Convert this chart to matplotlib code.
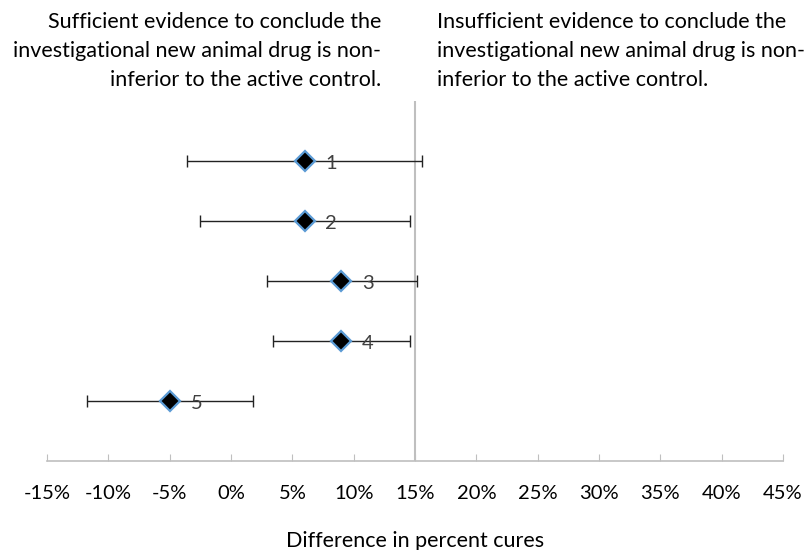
import matplotlib.pyplot as plt
from matplotlib.ticker import FuncFormatter

# study results: difference in percent cures with confidence limits
studies = ['1', '2', '3', '4', '5']
ypos = [5, 4, 3, 2, 1]
estimate = [6.0, 6.0, 9.0, 9.0, -5.0]
lower = [-3.6, -2.5, 2.9, 3.4, -11.7]
upper = [15.6, 14.6, 15.2, 14.6, 1.8]
margin = 15
xticks = [-15, -10, -5, 0, 5, 10, 15, 20, 25, 30, 35, 40, 45]

plt.rcParams['font.family'] = ['Lato', 'DejaVu Sans']

fig = plt.figure(figsize=(8.12, 5.5), dpi=100)
ax = fig.add_axes([0.0579, 0.1618, 0.9064, 0.6546])

err = [[e - lo for e, lo in zip(estimate, lower)],
       [up - e for e, up in zip(estimate, upper)]]
ax.errorbar(estimate, ypos, xerr=err, fmt='none', ecolor='#222222',
            elinewidth=1, capsize=4, capthick=1, zorder=2)
ax.plot(estimate, ypos, linestyle='none', marker='D', markersize=10,
        markerfacecolor='black', markeredgecolor='#5b9bd5',
        markeredgewidth=1.6, zorder=3)

for s, x, y in zip(studies, estimate, ypos):
    ax.annotate(s, (x, y), xytext=(15, -2), textcoords='offset points',
                fontsize=14.5, va='center', ha='left', color='#404040')

ax.axvline(margin, color='#bfbfbf', linewidth=1.5, zorder=1)

ax.set_xlim(-15, 45)
ax.set_ylim(0, 6)
ax.set_xticks(xticks)
ax.xaxis.set_major_formatter(FuncFormatter(lambda v, p: f'{v:.0f}%'))
ax.set_yticks([])
for side in ['top', 'right', 'left']:
    ax.spines[side].set_visible(False)
ax.spines['bottom'].set_color('#bfbfbf')
ax.spines['bottom'].set_linewidth(1.2)
ax.tick_params(axis='x', direction='in', length=5, color='#bfbfbf',
               labelsize=14.5, pad=17, labelcolor='black')

fig.text(415 / 812, 1 - 541 / 550, 'Difference in percent cures',
         ha='center', va='center', fontsize=15.5)

fig.text(381 / 812, 1 - 12 / 550,
         'Sufficient evidence to conclude the\n'
         'investigational new animal drug is non-\n'
         'inferior to the active control.',
         ha='right', va='top', fontsize=15.5, linespacing=1.55)
fig.text(437 / 812, 1 - 12 / 550,
         'Insufficient evidence to conclude the\n'
         'investigational new animal drug is non-\n'
         'inferior to the active control.',
         ha='left', va='top', fontsize=15.5, linespacing=1.55)

fig.savefig('out.png', dpi=100)
